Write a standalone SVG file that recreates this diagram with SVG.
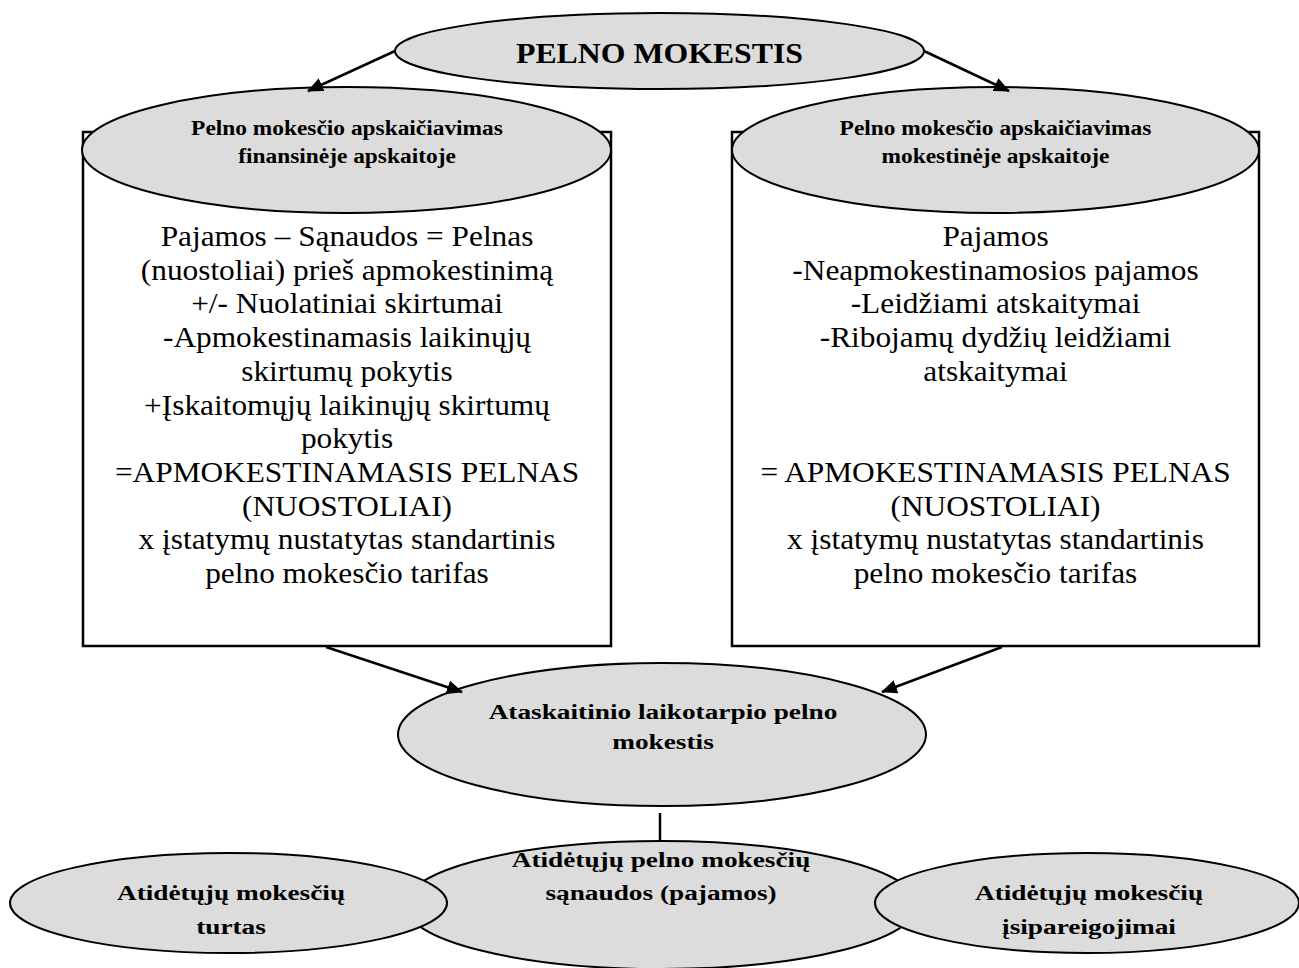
<svg xmlns="http://www.w3.org/2000/svg" width="1299" height="968" viewBox="0 0 1299 968">
  <defs>
    <style>
      .shape { fill: #dcdcdc; stroke: #000; stroke-width: 2; }
      .box { fill: #fff; stroke: #000; stroke-width: 2.5; }
      .link { fill: none; stroke: #000; stroke-width: 2.5; }
      .title { font-family: "Liberation Serif", "Times New Roman", serif; font-weight: bold; font-size: 30px; text-anchor: middle; fill: #000; }
      .label { font-family: "Liberation Serif", "Times New Roman", serif; font-weight: bold; font-size: 20px; text-anchor: middle; fill: #000; }
      .label-lg { font-family: "Liberation Serif", "Times New Roman", serif; font-weight: bold; font-size: 21px; text-anchor: middle; fill: #000; }
      .body { font-family: "Liberation Serif", "Times New Roman", serif; font-size: 28.5px; text-anchor: middle; fill: #000; }
    </style>
    <marker id="arrow" markerUnits="userSpaceOnUse" markerWidth="16" markerHeight="14" refX="15" refY="7" orient="auto">
      <path d="M0,0 L16,7 L0,14 Z" fill="#000"/>
    </marker>
  </defs>

  <rect width="1299" height="968" fill="#fff"/>

  <!-- top node -->
  <g id="pelno-mokestis">
    <ellipse class="shape" cx="659.5" cy="51" rx="264.5" ry="38"/>
    <g transform="translate(659.5 0) scale(1.06 1)">
      <text class="title" x="0" y="63">PELNO MOKESTIS</text>
    </g>
  </g>

  <!-- financial accounting branch -->
  <g id="finansine">
    <rect class="box" x="83" y="132" width="528" height="514"/>
    <ellipse class="shape" cx="346.5" cy="150" rx="264.5" ry="63"/>
    <g transform="translate(347 0) scale(1.17 1)">
      <text class="label" x="0" y="135">Pelno mokesčio apskaičiavimas</text>
      <text class="label" x="0" y="163">finansinėje apskaitoje</text>
    </g>
    <g transform="translate(347 0) scale(1.1 1)">
      <text class="body" x="0" y="246">Pajamos – Sąnaudos = Pelnas</text>
      <text class="body" x="0" y="280">(nuostoliai) prieš apmokestinimą</text>
      <text class="body" x="0" y="313.5">+/- Nuolatiniai skirtumai</text>
      <text class="body" x="0" y="347">-Apmokestinamasis laikinųjų</text>
      <text class="body" x="0" y="381">skirtumų pokytis</text>
      <text class="body" x="0" y="415">+Įskaitomųjų laikinųjų skirtumų</text>
      <text class="body" x="0" y="448.5">pokytis</text>
      <text class="body" x="0" y="482">=APMOKESTINAMASIS PELNAS</text>
      <text class="body" x="0" y="516">(NUOSTOLIAI)</text>
      <text class="body" x="0" y="549.5">x įstatymų nustatytas standartinis</text>
      <text class="body" x="0" y="583">pelno mokesčio tarifas</text>
    </g>
  </g>

  <!-- tax accounting branch -->
  <g id="mokestine">
    <rect class="box" x="732" y="132" width="527" height="514"/>
    <ellipse class="shape" cx="995.5" cy="150" rx="263.5" ry="63"/>
    <g transform="translate(995.5 0) scale(1.17 1)">
      <text class="label" x="0" y="135">Pelno mokesčio apskaičiavimas</text>
      <text class="label" x="0" y="163">mokestinėje apskaitoje</text>
    </g>
    <g transform="translate(995.5 0) scale(1.1 1)">
      <text class="body" x="0" y="246">Pajamos</text>
      <text class="body" x="0" y="280">-Neapmokestinamosios pajamos</text>
      <text class="body" x="0" y="313.5">-Leidžiami atskaitymai</text>
      <text class="body" x="0" y="347">-Ribojamų dydžių leidžiami</text>
      <text class="body" x="0" y="381">atskaitymai</text>
      <text class="body" x="0" y="482">= APMOKESTINAMASIS PELNAS</text>
      <text class="body" x="0" y="516">(NUOSTOLIAI)</text>
      <text class="body" x="0" y="549.5">x įstatymų nustatytas standartinis</text>
      <text class="body" x="0" y="583">pelno mokesčio tarifas</text>
    </g>
  </g>

  <!-- current period tax -->
  <g id="ataskaitinio">
    <ellipse class="shape" cx="662" cy="734.5" rx="264" ry="71.5"/>
    <g transform="translate(663 0) scale(1.3 1)">
      <text class="label-lg" x="0" y="719">Ataskaitinio laikotarpio pelno</text>
      <text class="label-lg" x="0" y="749">mokestis</text>
    </g>
  </g>

  <!-- deferred tax expense (income) -->
  <g id="sanaudos">
    <ellipse class="shape" cx="661" cy="905" rx="256" ry="64"/>
    <g transform="translate(661 0) scale(1.3 1)">
      <text class="label-lg" x="0" y="867">Atidėtųjų pelno mokesčių</text>
      <text class="label-lg" x="0" y="900">sąnaudos (pajamos)</text>
    </g>
  </g>

  <!-- deferred tax assets -->
  <g id="turtas">
    <ellipse class="shape" cx="228.5" cy="903" rx="218.5" ry="50"/>
    <g transform="translate(231 0) scale(1.3 1)">
      <text class="label-lg" x="0" y="900">Atidėtųjų mokesčių</text>
      <text class="label-lg" x="0" y="934">turtas</text>
    </g>
  </g>

  <!-- deferred tax liabilities -->
  <g id="isipareigojimai">
    <ellipse class="shape" cx="1087" cy="903" rx="212" ry="50"/>
    <g transform="translate(1089 0) scale(1.3 1)">
      <text class="label-lg" x="0" y="900">Atidėtųjų mokesčių</text>
      <text class="label-lg" x="0" y="934">įsipareigojimai</text>
    </g>
  </g>

  <!-- connectors -->
  <g id="connectors">
    <path class="link" d="M395,51 L308,91" marker-end="url(#arrow)"/>
    <path class="link" d="M924,51 L1009,91" marker-end="url(#arrow)"/>
    <path class="link" d="M326,647 L462,692" marker-end="url(#arrow)"/>
    <path class="link" d="M1002,647 L882,692" marker-end="url(#arrow)"/>
    <path class="link" d="M660,813 L660,841"/>
  </g>
</svg>
